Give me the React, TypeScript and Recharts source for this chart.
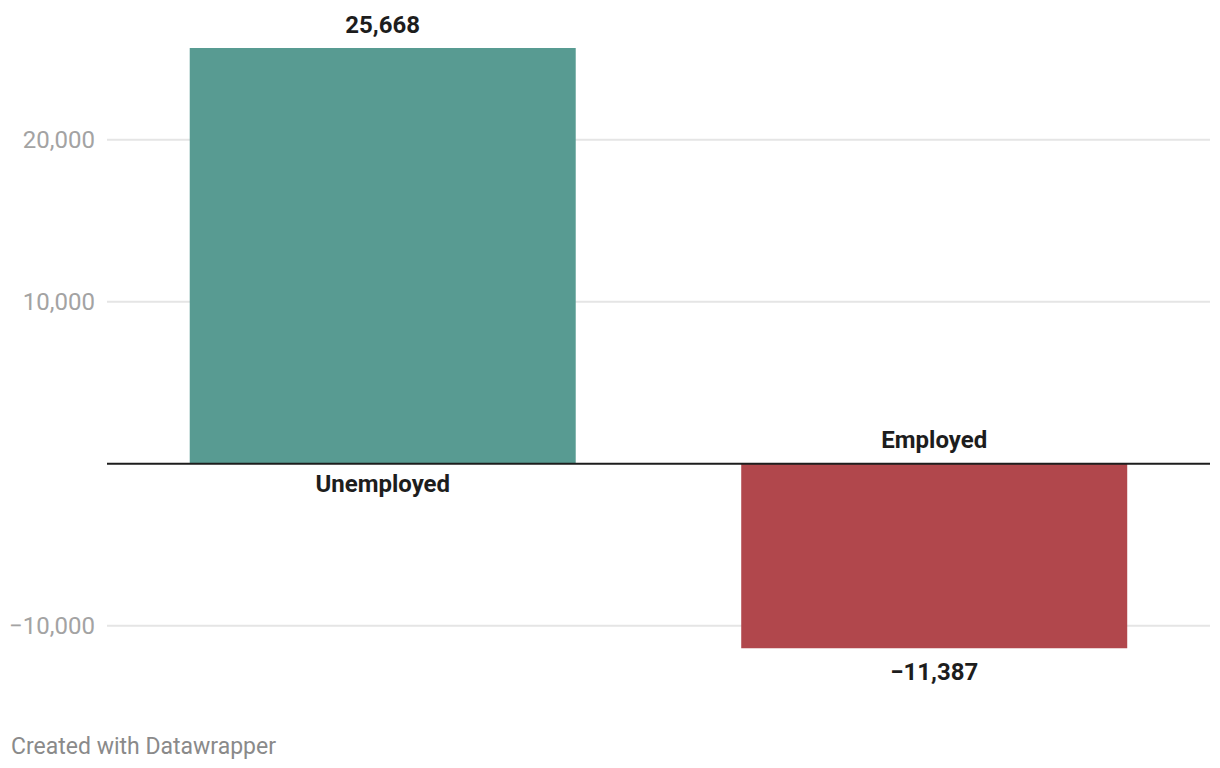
import { BarChart, Bar, XAxis, YAxis, CartesianGrid, ReferenceLine, Cell, LabelList } from "recharts";

// categorie e valori
const categories = ["Unemployed", "Employed"];
const values = [25668, -11387];
const barColors = ["#589b92", "#b1474c"];
const yTicks = [-10000, 10000, 20000];

const data = categories.map((name, i) => ({ name, value: values[i] }));

const fmt = (v: number) => v.toLocaleString("en-US").replace("-", "\u2212");

function YTick({ x, y, payload }: { x?: number; y?: number; payload?: { value: number } }) {
  return (
    <text x={x} y={y} dy={8} textAnchor="end" fill="#a3a3a3" fontSize={24} fontFamily="Roboto">
      {fmt(payload?.value ?? 0)}
    </text>
  );
}

function BarLabels(props: any) {
  const { x, y, width, height, index } = props;
  const v = values[index];
  const top = Math.min(y, y + height);
  const bottom = Math.max(y, y + height);
  const cx = x + width / 2;
  const style = { fontFamily: "Roboto", fontSize: 24, fontWeight: 700, fill: "#1d1d1d" };
  return (
    <g>
      <text x={cx} y={v >= 0 ? top - 15 : bottom + 32} textAnchor="middle" style={style}>
        {fmt(v)}
      </text>
      <text x={cx} y={v >= 0 ? bottom + 28.5 : top - 16} textAnchor="middle" style={style}>
        {categories[index]}
      </text>
    </g>
  );
}

export default function App() {
  return (
    <div style={{ position: "absolute", left: 0, top: 0, width: 1220, height: 768, background: "#fff", fontFamily: "Roboto" }}>
      <BarChart
        width={1220}
        height={700}
        data={data}
        margin={{ top: 10.1, right: 10, left: 0, bottom: 41.9 }}
        barCategoryGap="15%"
      >
        <CartesianGrid vertical={false} stroke="#e5e5e5" strokeWidth={2} syncWithTicks />
        <XAxis dataKey="name" hide />
        <YAxis
          width={107}
          domain={[-12000, 28000]}
          ticks={yTicks}
          axisLine={false}
          tickLine={false}
          tickSize={0}
          tickMargin={12}
          tick={<YTick />}
        />
        <Bar dataKey="value" isAnimationActive={false}>
          {data.map((_d, i) => (
            <Cell key={`cell-${i}`} fill={barColors[i]} />
          ))}
          <LabelList dataKey="value" content={<BarLabels />} />
        </Bar>
        <ReferenceLine y={0} stroke="#1d1d1d" strokeWidth={2} />
      </BarChart>
      <div style={{ position: "absolute", left: 11, top: 735, fontSize: 23, lineHeight: "23px", color: "#8a8a8a" }}>
        Created with Datawrapper
      </div>
    </div>
  );
}
